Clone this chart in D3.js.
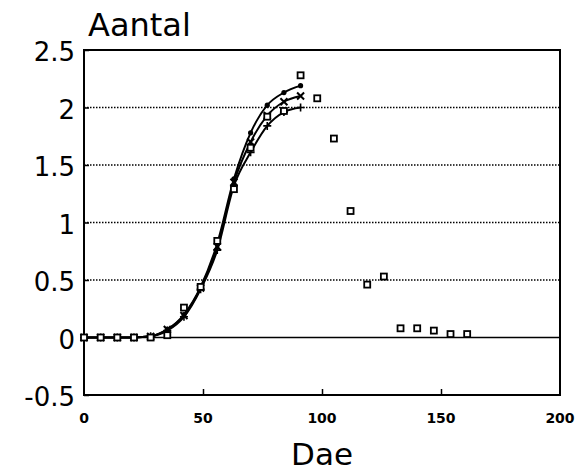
<!DOCTYPE html>
<html>
<head>
<meta charset="utf-8">
<script src="https://cdn.jsdelivr.net/npm/d3@7"></script>
<style>
  body { margin: 0; background: #fff; }
  text { font-family: "DejaVu Sans", sans-serif; fill: #000; }
</style>
</head>
<body>
<svg id="chart" width="582" height="474"></svg>
<script>
// observed counts (squares), weekly
var obsDays = [0, 7, 14, 21, 28, 35, 42, 49, 56, 63, 70, 77, 84, 91, 98, 105, 112, 119, 126, 133, 140, 147, 154, 161];
var observed = [0, 0, 0, 0, 0, 0.02, 0.26, 0.44, 0.84, 1.29, 1.65, 1.92, 1.97, 2.28, 2.08, 1.73, 1.10, 0.46, 0.53, 0.08, 0.08, 0.06, 0.03, 0.03];

// three fitted curves, up to day 91
var fitDays = [0, 7, 14, 21, 28, 35, 42, 49, 56, 63, 70, 77, 84, 91];
var fitDot = [0, 0, 0, 0, 0.01, 0.07, 0.20, 0.44, 0.82, 1.38, 1.78, 2.02, 2.13, 2.19];
var fitCross = [0, 0, 0, 0, 0.01, 0.07, 0.19, 0.43, 0.79, 1.35, 1.70, 1.93, 2.05, 2.10];
var fitPlus = [0, 0, 0, 0, 0.01, 0.06, 0.18, 0.42, 0.76, 1.32, 1.61, 1.84, 1.96, 2.00];

var xTicks = [0, 50, 100, 150, 200];
var yTicks = [-0.5, 0, 0.5, 1, 1.5, 2, 2.5];
var gridTicks = [0.5, 1, 1.5, 2];

var
  margin = {top: 50, right: 22, bottom: 79, left: 84},
  svg = d3.select('#chart'),
  width = +svg.attr('width') - margin.left - margin.right,
  height = +svg.attr('height') - margin.top - margin.bottom,
  g = svg.append('g').attr('transform', 'translate(' + margin.left + ',' + margin.top + ')'),
  xScale = d3.scaleLinear().domain([0, 200]).range([0, width]),
  yScale = d3.scaleLinear().domain([-0.5, 2.5]).range([height, 0])
  ;

// dotted grid
g.selectAll('.grid')
  .data(gridTicks)
  .enter().append('line')
  .attr('class', 'grid')
  .attr('x1', 0).attr('x2', width)
  .attr('y1', function(d){ return yScale(d); })
  .attr('y2', function(d){ return yScale(d); })
  .attr('stroke', '#000')
  .attr('stroke-width', 1.4)
  .attr('stroke-dasharray', '1.5,1.5');

// zero line
g.append('line')
  .attr('x1', 0).attr('x2', width)
  .attr('y1', yScale(0)).attr('y2', yScale(0))
  .attr('stroke', '#000').attr('stroke-width', 1.5);

// frame
g.append('rect')
  .attr('x', 0).attr('y', 0)
  .attr('width', width).attr('height', height)
  .attr('fill', 'none').attr('stroke', '#000').attr('stroke-width', 2);

// y axis: ticks inside, big labels
var yAxis = g.append('g').attr('class', 'axis axis--y')
  .call(d3.axisRight(yScale).tickValues(yTicks).tickSize(5).tickFormat(''));
yAxis.select('.domain').remove();
yAxis.selectAll('line').attr('stroke-width', 1.5);

g.selectAll('.ylab')
  .data(yTicks)
  .enter().append('text')
  .attr('class', 'ylab')
  .attr('x', -9)
  .attr('y', function(d){ return yScale(d) + 11; })
  .attr('text-anchor', 'end')
  .style('font-size', '26px')
  .text(function(d){ return d < 0 ? '-' + Math.abs(d) : d; });

// x axis: ticks pointing up, small bold labels
var xAxis = g.append('g').attr('class', 'axis axis--x')
  .attr('transform', 'translate(0,' + height + ')')
  .call(d3.axisTop(xScale).tickValues([50, 100, 150]).tickSize(6).tickFormat(''));
xAxis.select('.domain').remove();
xAxis.selectAll('line').attr('stroke-width', 1.5);

g.selectAll('.xlab')
  .data(xTicks)
  .enter().append('text')
  .attr('class', 'xlab')
  .attr('x', function(d){ return xScale(d); })
  .attr('y', height + 28)
  .attr('text-anchor', 'middle')
  .style('font-size', '14px')
  .style('font-weight', 'bold')
  .text(function(d){ return d; });

// titles
svg.append('text')
  .attr('x', 88).attr('y', 36)
  .style('font-size', '32px')
  .text('Aantal');

svg.append('text')
  .attr('x', margin.left + xScale(100)).attr('y', 465)
  .attr('text-anchor', 'middle')
  .style('font-size', '31px')
  .text('Dae');

// fitted curves
var line = d3.line()
  .x(function(d){ return xScale(d[0]); })
  .y(function(d){ return yScale(d[1]); })
  .curve(d3.curveMonotoneX);

var fits = [fitDot, fitCross, fitPlus];
fits.forEach(function(vals){
  g.append('path')
    .datum(fitDays.map(function(d, i){ return [d, vals[i]]; }))
    .attr('d', line)
    .attr('fill', 'none')
    .attr('stroke', '#000')
    .attr('stroke-width', 2);
});

// markers
g.selectAll('.dot')
  .data(fitDays)
  .enter().append('circle')
  .attr('cx', function(d){ return xScale(d); })
  .attr('cy', function(d, i){ return yScale(fitDot[i]); })
  .attr('r', 2.6)
  .attr('fill', '#000');

var s = 3.5;
g.selectAll('.cross')
  .data(fitDays)
  .enter().append('path')
  .attr('transform', function(d, i){ return 'translate(' + xScale(d) + ',' + yScale(fitCross[i]) + ')'; })
  .attr('d', 'M' + (-s) + ',' + (-s) + 'L' + s + ',' + s + 'M' + (-s) + ',' + s + 'L' + s + ',' + (-s))
  .attr('stroke', '#000').attr('stroke-width', 2);

g.selectAll('.plus')
  .data(fitDays)
  .enter().append('path')
  .attr('transform', function(d, i){ return 'translate(' + xScale(d) + ',' + yScale(fitPlus[i]) + ')'; })
  .attr('d', 'M' + (-4) + ',0L4,0M0,-4L0,4')
  .attr('stroke', '#000').attr('stroke-width', 1.6);

g.selectAll('.obs')
  .data(obsDays)
  .enter().append('rect')
  .attr('x', function(d){ return xScale(d) - 3; })
  .attr('y', function(d, i){ return yScale(observed[i]) - 3; })
  .attr('width', 6).attr('height', 6)
  .attr('fill', '#fff')
  .attr('stroke', '#000')
  .attr('stroke-width', 1.8);
</script>
</body>
</html>
